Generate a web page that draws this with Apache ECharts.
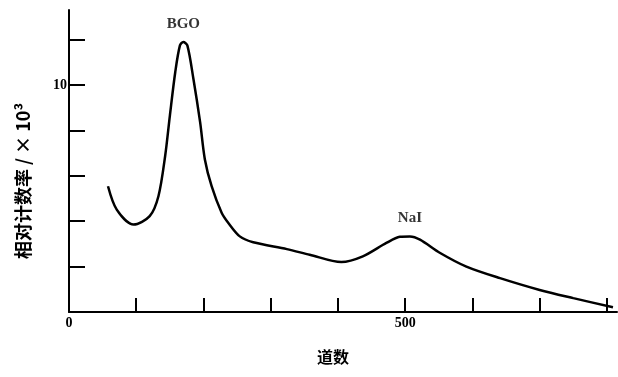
<!DOCTYPE html>
<html>
<head>
<meta charset="utf-8">
<script src="https://cdn.jsdelivr.net/npm/echarts@6/dist/echarts.min.js"></script>
<style>
  html, body { margin: 0; padding: 0; background: #fff; }
  #chart { width: 618px; height: 377px; }
</style>
</head>
<body>
<div id="chart"></div>
<script>
// channel number vs relative count rate (x10^3)
var channels = [58, 71, 96, 120, 133, 143, 150, 158, 165, 170, 176, 185, 195, 202, 212, 227, 237,
    254, 274, 324, 358, 405, 437, 472, 492, 507, 522, 552, 591, 641, 700, 750, 809];
var counts = [5.54, 4.51, 3.85, 4.22, 5.10, 6.87, 8.64, 10.56, 11.74, 11.89, 11.74, 10.27, 8.36, 6.73, 5.55, 4.37, 3.92,
    3.33, 3.07, 2.77, 2.52, 2.20, 2.45, 3.04, 3.31, 3.33, 3.19, 2.60, 2.00, 1.49, 0.97, 0.61, 0.21];

var peakNames = ['BGO', 'NaI'];
var peakChannels = [170, 507];
var peakCounts = [11.89, 3.33];

var xTicks = [100, 200, 300, 400, 500, 600, 700, 800];
var xLabels = [0, 500];
var yTicks = [2, 4, 6, 8, 10, 12];
var yLabels = [10];

var chart = echarts.init(document.getElementById('chart'));

var curve = channels.map(function (c, i) {
    return [c, counts[i]];
});

var peaks = peakChannels.map(function (c, i) {
    return { value: [c, peakCounts[i]], name: peakNames[i] };
});

var serif = 'Liberation Serif';

var option = {
    animation: false,
    grid: { left: 69, right: 1, top: 10, bottom: 65 },
    xAxis: {
        type: 'value',
        min: 0,
        max: 815,
        interval: 100,
        name: '道数',
        nameLocation: 'middle',
        nameGap: 37,
        nameTextStyle: {
            fontFamily: 'Noto Sans CJK SC',
            fontWeight: 'bold',
            fontSize: 16,
            color: '#000',
            padding: [0, 20, 0, 0]
        },
        splitLine: { show: false },
        axisLine: { lineStyle: { color: '#000', width: 2 } },
        axisTick: {
            inside: true,
            length: 14,
            customValues: xTicks,
            lineStyle: { color: '#000', width: 2 }
        },
        axisLabel: {
            customValues: xLabels,
            margin: 4,
            fontFamily: serif,
            fontWeight: 'bold',
            fontSize: 14,
            color: '#000'
        }
    },
    yAxis: {
        type: 'value',
        min: 0,
        max: 13.3,
        interval: 2,
        name: '相对计数率 / × 10³',
        nameLocation: 'middle',
        nameGap: 37,
        nameTextStyle: {
            fontFamily: 'Noto Sans CJK SC',
            fontWeight: 'bold',
            fontSize: 18,
            color: '#000',
            padding: [0, 40, 0, 0]
        },
        splitLine: { show: false },
        axisLine: { lineStyle: { color: '#000', width: 2 } },
        axisTick: {
            inside: true,
            length: 16,
            customValues: yTicks,
            lineStyle: { color: '#000', width: 2 }
        },
        axisLabel: {
            customValues: yLabels,
            margin: 2,
            fontFamily: serif,
            fontWeight: 'bold',
            fontSize: 14,
            color: '#000'
        }
    },
    series: [{
        type: 'line',
        data: curve,
        smooth: 0.3,
        showSymbol: false,
        symbol: 'none',
        lineStyle: { color: '#000', width: 2.5 }
    }, {
        type: 'scatter',
        data: peaks,
        symbolSize: 1,
        itemStyle: { color: 'rgba(0,0,0,0)' },
        label: {
            show: true,
            position: 'top',
            distance: 10,
            formatter: '{b}',
            fontFamily: serif,
            fontWeight: 'bold',
            fontSize: 15,
            color: '#000'
        }
    }]
};

chart.setOption(option);
</script>
</body>
</html>
